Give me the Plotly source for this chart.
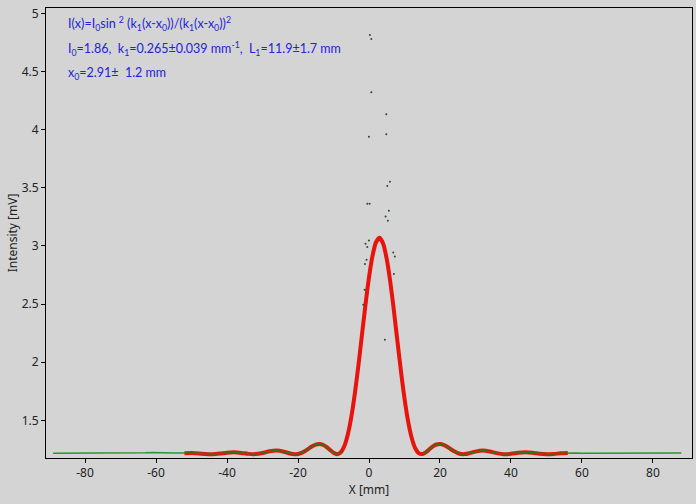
import plotly.graph_objects as go

# Fit curve (red)
fit_x = [-52, -50, -48, -46, -44, -42, -40, -38, -36, -34, -32, -30, -28, -26, -24, -22,
         -21, -20, -19, -18, -17, -16, -15, -14, -13, -12, -11, -10, -9, -8, -7, -6, -5, -4,
         -3, -2, -1, 0, 1, 2, 3, 4, 5, 6, 7, 8, 9, 10, 11, 12, 13, 14, 15, 16, 17, 18, 19,
         20, 21, 22, 23, 24, 25, 26, 27, 28, 30, 32, 34, 36, 38, 40, 42, 44, 46, 48, 50,
         52, 54, 56]
fit_y = [1.2174, 1.2193, 1.2165, 1.2116, 1.2102, 1.2150, 1.2224, 1.2255, 1.2205, 1.2124,
         1.2106, 1.2202, 1.2347, 1.2405, 1.2306, 1.2142,
         1.2101, 1.2122, 1.2216, 1.2377, 1.2577, 1.2777, 1.2925, 1.2978, 1.2909, 1.2724,
         1.2467, 1.2221, 1.2100, 1.2237, 1.2756, 1.3753, 1.5271, 1.7282, 1.9685, 2.2313,
         2.4929, 2.7300, 2.9168, 3.0341, 3.0697, 3.0189, 2.8866, 2.6896, 2.4467, 2.1830,
         1.9229, 1.6882, 1.4955, 1.3534, 1.2629, 1.2187, 1.2107, 1.2260, 1.2516, 1.2765,
         1.2931, 1.2977, 1.2904, 1.2743, 1.2540, 1.2344, 1.2194, 1.2113, 1.2105, 1.2154,
         1.2320, 1.2406, 1.2335, 1.2190, 1.2103, 1.2130, 1.2212, 1.2255, 1.2219, 1.2144,
         1.2101, 1.2120, 1.2169, 1.2194]

# Measured data (green), dense part
data_x = [-89, -87, -85, -83, -81, -79, -77, -75, -73, -71, -69, -67, -65, -63, -61, -59,
          -57, -55, -53,
          -52, -50, -48, -46, -44, -42, -40, -38, -36, -34, -32, -30, -28, -26, -24, -22,
          -21, -20, -19, -18, -17, -16, -15, -14, -13, -12, -11, -10, -9, -8,
          -7.5,
          15, 16, 17, 18, 19, 20, 21, 22, 23, 24, 25, 26, 27, 28, 30, 32, 34, 36, 38, 40,
          42, 44, 46, 48, 50, 52, 54, 56,
          58, 60, 62, 64, 66, 68, 70, 72, 74, 76, 78, 80, 82, 84, 86, 88]
data_y = [1.218, 1.218, 1.217, 1.218, 1.219, 1.222, 1.218, 1.223, 1.219, 1.222, 1.218,
          1.218, 1.217, 1.223, 1.225, 1.222, 1.218, 1.219, 1.220,
          1.218, 1.220, 1.217, 1.212, 1.211, 1.216, 1.223, 1.226, 1.221, 1.213, 1.211,
          1.221, 1.235, 1.241, 1.231, 1.215,
          1.211, 1.213, 1.222, 1.238, 1.258, 1.278, 1.293, 1.298, 1.291, 1.273, 1.247,
          1.222, 1.210, 1.224,
          None,
          1.211, 1.226, 1.252, 1.277, 1.293, 1.298, 1.290, 1.274, 1.254, 1.234, 1.219,
          1.211, 1.211, 1.216, 1.232, 1.241, 1.234, 1.219, 1.211, 1.213, 1.221, 1.226,
          1.222, 1.215, 1.211, 1.212, 1.217, 1.220,
          1.219, 1.218, 1.218, 1.218, 1.219, 1.223, 1.221, 1.218, 1.218, 1.218, 1.219,
          1.221, 1.222, 1.218, 1.223, 1.219]

# Stray data points near the central peak
stray_x = [0.25, 0.65, 0.65, 4.87, 4.87, -0.03, 5.89, 5.15, -0.48, 0.17, 5.60, 4.67, 5.32,
           -0.03, -0.96, -0.48, 6.84, 7.29, -0.68, -1.15, 7.01, -1.24, -1.61, 4.48]
stray_y = [4.814, 4.779, 4.321, 4.132, 3.960, 3.940, 3.553, 3.516, 3.362, 3.362, 3.302,
           3.253, 3.216, 3.046, 3.018, 2.992, 2.943, 2.909, 2.881, 2.846, 2.760, 2.623,
           2.494, 2.193]

y_ticks = [1.5, 2, 2.5, 3, 3.5, 4, 4.5, 5]
y_labels = ["1.5", "2", "2.5", "3", "3.5", "4", "4.5", "5"]
x_ticks = [-80, -60, -40, -20, 0, 20, 40, 60, 80]
x_labels = ["-80", "-60", "-40", "-20", "0", "20", "40", "60", "80"]

ann_lines = [
    "I(x)=I<sub>0</sub>sin <sup>2</sup> (k<sub>1</sub>(x-x<sub>0</sub>))/(k<sub>1</sub>(x-x<sub>0</sub>))<sup>2</sup>",
    "I<sub>0</sub>=1.86,  k<sub>1</sub>=0.265±0.039 mm<sup>-1</sup>,  L<sub>1</sub>=11.9±1.7 mm",
    "x<sub>0</sub>=2.91±  1.2 mm",
]

FONT = "Noto Sans, Open Sans, sans-serif"
ANN_FONT = "Lato, Noto Sans, sans-serif"
BG = "#d4d4d4"

fig = go.Figure()
fig.add_trace(go.Scatter(x=fit_x, y=fit_y, mode="lines",
                         line=dict(color="#e8130c", width=4, shape="spline", smoothing=0.6),
                         hoverinfo="skip"))
fig.add_trace(go.Scatter(x=data_x, y=data_y, mode="lines", connectgaps=False,
                         line=dict(color="rgba(20,135,20,0.85)", width=1.5)))
fig.add_trace(go.Scatter(x=stray_x, y=stray_y, mode="markers",
                         marker=dict(color="#2a4a2a", size=2, line=dict(width=0))))

ann_y = [0.965, 0.909, 0.854]
for txt, yy in zip(ann_lines, ann_y):
    fig.add_annotation(text=txt, xref="paper", yref="paper", x=0.031, y=yy,
                       xanchor="left", yanchor="middle", showarrow=False,
                       font=dict(family=ANN_FONT, size=12.5, color="#2323d8"))

fig.update_layout(
    width=696, height=504,
    margin=dict(l=46, r=4, t=8, b=46),
    paper_bgcolor=BG, plot_bgcolor=BG,
    showlegend=False,
    font=dict(family=FONT, size=12, color="#222222"),
    xaxis=dict(range=[-91, 91], tickvals=x_ticks, ticktext=x_labels, ticks="outside",
               ticklen=4, tickcolor="black", showline=True, linecolor="black",
               linewidth=1, mirror=True, showgrid=False, zeroline=False, automargin=False,
               title=dict(text="X [mm]", standoff=4, font=dict(size=12))),
    yaxis=dict(range=[1.177, 5.046], tickvals=y_ticks, ticktext=y_labels,
               ticks="outside", ticklen=4, tickcolor="black", showline=True,
               linecolor="black", linewidth=1, mirror=True, showgrid=False,
               zeroline=False, automargin=False,
               title=dict(text="Intensity [mV]", standoff=1, font=dict(size=12))),
)

page_fix = ("document.body.style.margin='0';document.body.style.padding='0';"
            "document.body.style.overflow='hidden';"
            "document.body.style.background='" + BG + "';")

fig.write_html("out.html", post_script=page_fix, config={"displayModeBar": False})
